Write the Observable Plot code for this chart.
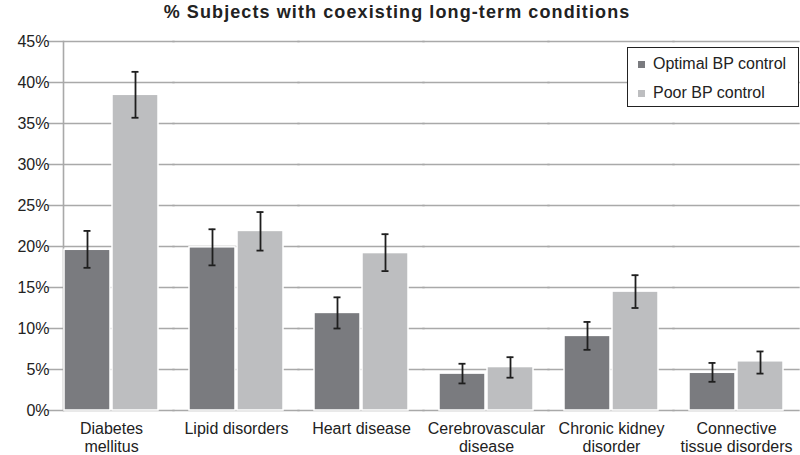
<!DOCTYPE html>
<html>
<head>
<meta charset="utf-8">
<script src="https://cdn.jsdelivr.net/npm/d3@7"></script>
<script src="https://cdn.jsdelivr.net/npm/@observablehq/plot@0.6"></script>
<style>
  html, body { margin: 0; padding: 0; background: #fff; }
  #wrap { position: relative; width: 800px; height: 455px; font-family: "Liberation Sans", Arial, sans-serif; color: #222; }
  #title { height: 30px; box-sizing: border-box; padding-top: 1px; line-height: 22px; font-size: 18px; letter-spacing: 1.1px; font-weight: bold; text-align: center; padding-right: 6px; }
  #legend { position: absolute; left: 627px; top: 47px; width: 172px; height: 60px; box-sizing: border-box; border: 1.5px solid #222; background: #fff; font-size: 16px; }
  #legend .row { position: absolute; left: 10px; display: flex; align-items: center; height: 20px; }
  #legend .sw { width: 7px; height: 7px; margin-right: 8px; }
  svg { display: block; }
</style>
</head>
<body>
<div id="wrap">
  <div id="title">% Subjects with coexisting long-term conditions</div>
  <div id="chart"></div>
  <div id="legend"></div>
</div>
<script>
const categories = ["Diabetes mellitus", "Lipid disorders", "Heart disease", "Cerebrovascular disease", "Chronic kidney disorder", "Connective tissue disorders"];
const categoryLabels = ["Diabetes\nmellitus", "Lipid disorders", "Heart disease", "Cerebrovascular\ndisease", "Chronic kidney\ndisorder", "Connective\ntissue disorders"];
const series = ["Optimal BP control", "Poor BP control"];
const optimal   = [19.6, 19.9, 11.9, 4.5, 9.1, 4.6];
const optimalLo = [17.4, 17.7, 10.0, 3.3, 7.4, 3.5];
const optimalHi = [21.9, 22.1, 13.8, 5.7, 10.8, 5.8];
const poor      = [38.5, 21.9, 19.2, 5.3, 14.5, 6.0];
const poorLo    = [35.7, 19.5, 17.0, 4.0, 12.5, 4.5];
const poorHi    = [41.3, 24.2, 21.5, 6.5, 16.5, 7.2];
const yTicks = [0, 5, 10, 15, 20, 25, 30, 35, 40, 45];
const colors = ["#7a7b7f", "#bdbec0"];

const data = [];
categories.forEach((c, i) => {
  data.push({category: c, series: series[0], value: optimal[i], lo: optimalLo[i], hi: optimalHi[i]});
  data.push({category: c, series: series[1], value: poor[i], lo: poorLo[i], hi: poorHi[i]});
});
const labelOf = new Map(categories.map((c, i) => [c, categoryLabels[i]]));

const gridColor = "#a9a9a9";
const errColor = "#1e1e1e";

const chart = Plot.plot({
  width: 800,
  height: 425,
  marginTop: 11,
  marginBottom: 45,
  marginLeft: 47,
  marginRight: 0,
  style: {fontFamily: "Liberation Sans, Arial, sans-serif", fontSize: "16px", color: "#222", background: "white"},
  fx: {domain: categories, paddingInner: 0.233, paddingOuter: 0.124, label: null},
  x: {domain: series, paddingInner: 0.04, paddingOuter: 0, axis: null},
  y: {domain: [0, 45], label: null},
  color: {domain: series, range: colors},
  marks: [
    Plot.ruleY(yTicks, {stroke: gridColor, strokeWidth: 1.6, insetLeft: -15.7, insetRight: -15.7}),
    Plot.frame({anchor: "left", facet: "super", stroke: gridColor, strokeWidth: 1.6}),
    Plot.barY(data, {fx: "category", x: "series", y: "value", fill: "series", stroke: "white", strokeWidth: 1.5}),
    Plot.ruleX(data, {fx: "category", x: "series", y1: "lo", y2: "hi", stroke: errColor, strokeWidth: 1.8}),
    Plot.tickY(data, {fx: "category", x: "series", y: "lo", stroke: errColor, strokeWidth: 1.8, insetLeft: 19.5, insetRight: 19.5}),
    Plot.tickY(data, {fx: "category", x: "series", y: "hi", stroke: errColor, strokeWidth: 1.8, insetLeft: 19.5, insetRight: 19.5}),
    Plot.axisY({ticks: yTicks, tickSize: 0, tickPadding: 14, tickFormat: d => d + "%", label: null, fontSize: 16, fill: "#222"}),
    Plot.axisFx({anchor: "bottom", tickSize: 0, tickPadding: 11, label: null, fontSize: 16, lineHeight: 1.12, fill: "#222", tickFormat: d => labelOf.get(d)})
  ]
});
document.getElementById("chart").appendChild(chart);

const legend = document.getElementById("legend");
series.forEach((s, i) => {
  const row = document.createElement("div");
  row.className = "row";
  row.style.top = (i === 0 ? 6 : 35) + "px";
  const sw = document.createElement("div");
  sw.className = "sw";
  sw.style.background = colors[i];
  const t = document.createElement("span");
  t.textContent = s;
  row.appendChild(sw);
  row.appendChild(t);
  legend.appendChild(row);
});
</script>
</body>
</html>
